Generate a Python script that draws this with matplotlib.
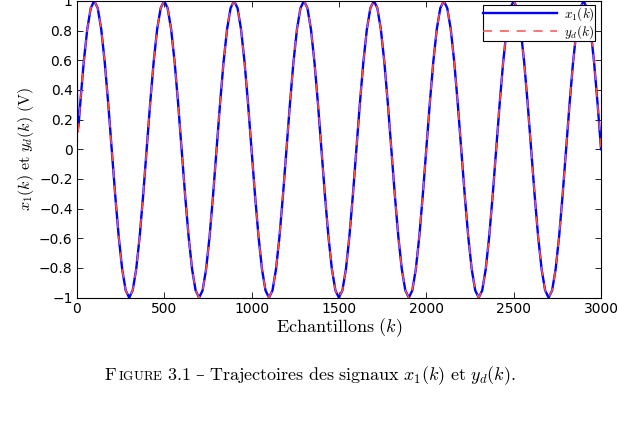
import numpy as np
import matplotlib
matplotlib.use('Agg')
import matplotlib.pyplot as plt

plt.rcParams['mathtext.fontset'] = 'cm'
plt.rcParams['font.family'] = ['DejaVu Sans']

# reference signal y_d(k), read every 20 samples (one period per line)
k_yd = list(range(0, 3001, 20))
yd = [
    0.0, 0.309, 0.588, 0.809, 0.951, 1.0, 0.951, 0.809, 0.588, 0.309, 0.0, -0.309, -0.588, -0.809, -0.951, -1.0, -0.951, -0.809, -0.588, -0.309,
    0.0, 0.309, 0.588, 0.809, 0.951, 1.0, 0.951, 0.809, 0.588, 0.309, 0.0, -0.309, -0.588, -0.809, -0.951, -1.0, -0.951, -0.809, -0.588, -0.309,
    0.0, 0.309, 0.588, 0.809, 0.951, 1.0, 0.951, 0.809, 0.588, 0.309, 0.0, -0.309, -0.588, -0.809, -0.951, -1.0, -0.951, -0.809, -0.588, -0.309,
    0.0, 0.309, 0.588, 0.809, 0.951, 1.0, 0.951, 0.809, 0.588, 0.309, 0.0, -0.309, -0.588, -0.809, -0.951, -1.0, -0.951, -0.809, -0.588, -0.309,
    0.0, 0.309, 0.588, 0.809, 0.951, 1.0, 0.951, 0.809, 0.588, 0.309, 0.0, -0.309, -0.588, -0.809, -0.951, -1.0, -0.951, -0.809, -0.588, -0.309,
    0.0, 0.309, 0.588, 0.809, 0.951, 1.0, 0.951, 0.809, 0.588, 0.309, 0.0, -0.309, -0.588, -0.809, -0.951, -1.0, -0.951, -0.809, -0.588, -0.309,
    0.0, 0.309, 0.588, 0.809, 0.951, 1.0, 0.951, 0.809, 0.588, 0.309, 0.0, -0.309, -0.588, -0.809, -0.951, -1.0, -0.951, -0.809, -0.588, -0.309,
    0.0, 0.309, 0.588, 0.809, 0.951, 1.0, 0.951, 0.809, 0.588, 0.309, 0.0,
]

# output x1(k): short transient at the start, then follows y_d
k_x1_start = [0, 4, 10]
x1_start = [0.48, 0.12, 0.16]
k_x1 = k_x1_start + k_yd[1:]
x1 = x1_start + yd[1:]

yticks = [-1, -0.8, -0.6, -0.4, -0.2, 0, 0.2, 0.4, 0.6, 0.8, 1]
ytick_labels = ['\u22121', '\u22120.8', '\u22120.6', '\u22120.4', '\u22120.2', '0',
                '0.2', '0.4', '0.6', '0.8', '1']
xticks = [0, 500, 1000, 1500, 2000, 2500, 3000]

fig = plt.figure(figsize=(6.19, 4.41), dpi=100)
ax = fig.add_axes([0.124, 0.325, 0.847, 0.673])

ax.plot(k_x1, x1, color='#0000ff', lw=1.7, label=r'$x_1(k)$')
ax.plot(k_yd, yd, color='#ff5050', lw=1.1, dashes=(6, 5), label=r'$y_d(k)$')

ax.set_xlim(0, 3000)
ax.set_ylim(-1, 1)
ax.set_xticks(xticks)
ax.set_xticklabels([str(v) for v in xticks])
ax.set_yticks(yticks)
ax.set_yticklabels(ytick_labels)
ax.tick_params(direction='in', top=True, right=True, labelsize=10, length=4, width=0.6, pad=3)
for s in ax.spines.values():
    s.set_linewidth(0.8)

ax.set_xlabel(r'$\mathrm{Echantillons}\ (k)$', fontsize=13, labelpad=0)
ax.set_ylabel(r'$x_1(k)\ \mathrm{et}\ y_d(k)\ \mathrm{(V)}$', fontsize=11.5, labelpad=2)

leg = ax.legend(loc='upper right', fontsize=9.5, fancybox=False, framealpha=1,
                edgecolor='black', handlelength=5.6, handletextpad=0.6,
                borderpad=0.0, labelspacing=0.0, borderaxespad=0,
                bbox_to_anchor=(0.989, 0.985))
leg.get_frame().set_linewidth(0.8)

# caption, "Figure" in small caps built from pieces (x step after each piece)
caption = [
    (r'$\mathrm{F}$', 13, None, 0.5),
    (r'$\mathrm{IGURE}$', 9.5, None, 4),
    (r'$\mathrm{3.1}$', 13, None, 5),
    ('\u2013', 12.5, 'DejaVu Serif', 5),
    (r'$\mathrm{Trajectoires\ des\ signaux}\ x_1(k)\ \mathrm{et}\ y_d(k).$', 13, None, 0),
]
renderer = fig.canvas.get_renderer()
x0 = 104
for s, fs, fam, gap in caption:
    t = fig.text(x0 / 619, 1 - 380 / 441, s, ha='left', va='baseline', fontsize=fs)
    if fam:
        t.set_family(fam)
    x0 = t.get_window_extent(renderer).x1 + gap

fig.savefig('out.png', dpi=100)
